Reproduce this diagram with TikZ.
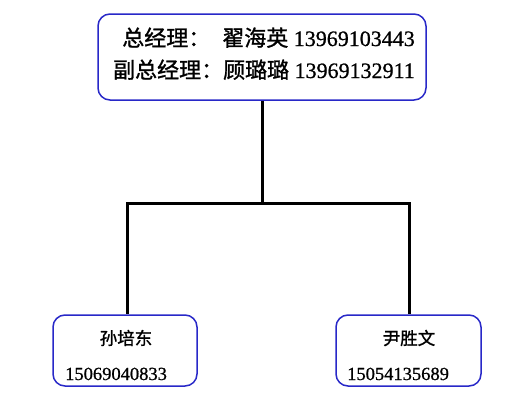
\documentclass[tikz,border=0pt]{standalone}
\usepackage{fontspec}
\setmainfont[FakeBold=0.8]{Liberation Serif}
\newfontfamily\cjk[FakeBold=1.2]{Noto Sans CJK SC}
\definecolor{boxblue}{RGB}{40,40,200}
\begin{document}
\begin{tikzpicture}[x=1pt,y=-1pt,
  box/.style={draw=boxblue,line width=1.5pt,rounded corners=12pt,fill=white,inner sep=0pt},
  conn/.style={draw=black,line width=3pt},
  txt/.style={inner sep=0pt,font=\fontsize{22}{26}\selectfont}]
\useasboundingbox (0,0) rectangle (511,402);
\fill[white] (0,0) rectangle (511,402);
\node[box,minimum width=328pt,minimum height=86pt] (top) at (262,57) {};
\node[box,minimum width=144pt,minimum height=71pt] (left) at (125,350.5) {};
\node[box,minimum width=145pt,minimum height=71pt] (right) at (408.5,350.5) {};
\coordinate (j) at (262,203);
\coordinate (jl) at (127,203);
\coordinate (jr) at (409,203);
\draw[conn] (top.south) -- (j);
\draw[conn,line cap=rect] (jl) -- (jr);
\draw[conn] (jl) -- (jl |- left.north);
\draw[conn] (jr) -- (jr |- right.north);
\node[txt,anchor=base east] (l1) at (415,46) {{\cjk 总经理：}\hspace{12pt}{\cjk 翟海英} 13969103443};
\node[txt,anchor=base east] (l2) at (415,78) {{\cjk 副总经理：顾璐璐} 13969132911};
\node[txt,font=\fontsize{17.5}{20}\selectfont\cjk] (n1) at (126,338) {孙培东};
\node[txt,font=\fontsize{18.5}{20}\selectfont,anchor=base west] (p1) at (65,380) {15069040833};
\node[txt,font=\fontsize{17.5}{20}\selectfont\cjk] (n2) at (409,338) {尹胜文};
\node[txt,font=\fontsize{18.5}{20}\selectfont,anchor=base west] (p2) at (347,380) {15054135689};
\end{tikzpicture}
\end{document}
